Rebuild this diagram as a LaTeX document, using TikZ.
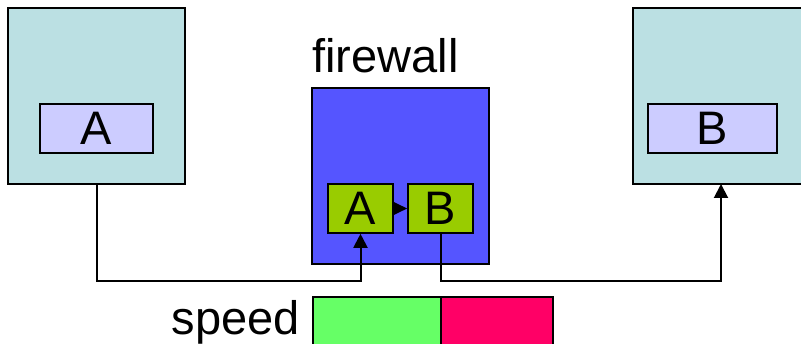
\documentclass[tikz,border=0pt]{standalone}
\usepackage{fontspec}
\setmainfont{Liberation Sans}
\usetikzlibrary{arrows.meta}
\definecolor{hostc}{HTML}{BBE0E3}
\definecolor{appc}{HTML}{CCCCFF}
\definecolor{fwc}{HTML}{5555FF}
\definecolor{fwin}{HTML}{99CC00}
\definecolor{fastc}{HTML}{66FF66}
\definecolor{slowc}{HTML}{FF0066}
\tikzset{
  box/.style={draw=black, line width=1.6pt, inner sep=0pt, anchor=center},
  big/.style={font=\fontsize{47}{56}\selectfont},
  conn/.style={draw=black, line width=2pt, rounded corners=0pt},
  tip/.style={-{Triangle[length=14pt,width=14pt]}},
}
\begin{document}
\begin{tikzpicture}[x=1pt,y=-1pt]
\useasboundingbox (0,0) rectangle (801,344);
\clip (0,0) rectangle (801,344);
% hosts
\node[box, fill=hostc, minimum width=177pt, minimum height=176pt] (lh) at (96.5,96) {};
\node[box, fill=appc, minimum width=113pt, minimum height=49pt, big] (la) at (96.5,128.5) {A};
\node[box, fill=hostc, minimum width=170pt, minimum height=176pt] (rh) at (718,96) {};
\node[box, fill=appc, minimum width=129pt, minimum height=49pt, big] (rb) at (712.5,128.5) {B};
% firewall
\node[box, fill=fwc, minimum width=177pt, minimum height=176pt] (fw) at (400.5,176) {};
\node[big, anchor=base] (fwl) at (385.5,73) {firewall};
\node[box, fill=fwin, minimum width=65pt, minimum height=49pt, big] (fa) at (360.5,208.5) {A};
\node[box, fill=fwin, minimum width=65pt, minimum height=49pt, big] (fb) at (440.5,208.5) {B};
\draw[conn, -{Triangle[length=14pt,width=13pt]}] (fa.east) -- (fb.west);
% connectors
\coordinate (lo) at (0,281);
\coordinate (rin) at (721,184);
\draw[conn, tip] (lh.south) |- (lo -| fa.south) -- (fa.south);
\draw[conn, tip] (fb.south) |- (lo -| rin) -- (rin);
% speed bar
\node[box, fill=fastc, minimum width=128pt, minimum height=49pt] (sf) at (377,321.5) {};
\node[box, fill=slowc, minimum width=112pt, minimum height=49pt] (ss) at (497,321.5) {};
\node[big, anchor=base east, inner sep=0pt] (sp) at (300,335) {speed};
\end{tikzpicture}
\end{document}
